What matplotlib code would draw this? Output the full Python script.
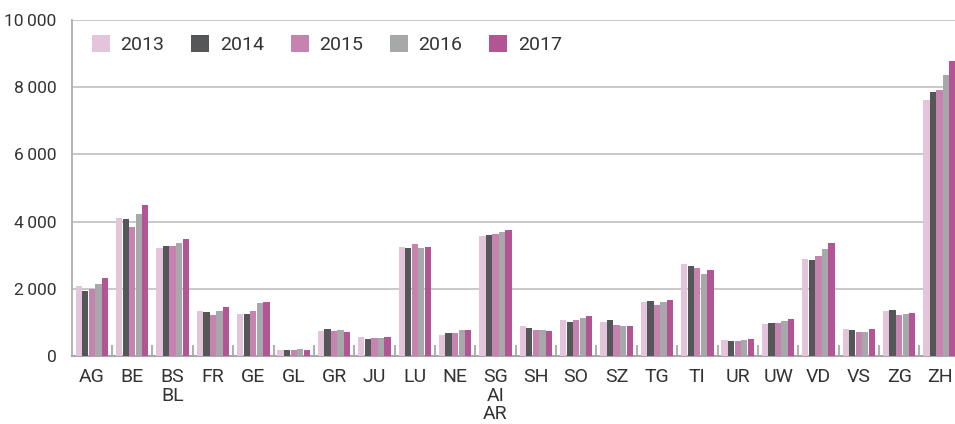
import matplotlib
matplotlib.use("Agg")
import matplotlib.pyplot as plt
import numpy as np
from matplotlib.patches import Patch

plt.rcParams['font.family'] = ['Roboto', 'DejaVu Sans']

categories = ["AG", "BE", "BS\nBL", "FR", "GE", "GL", "GR", "JU", "LU", "NE", "SG\nAI\nAR",
              "SH", "SO", "SZ", "TG", "TI", "UR", "UW", "VD", "VS", "ZG", "ZH"]
years = ["2013", "2014", "2015", "2016", "2017"]

v2013 = [2085, 4110, 3215, 1340, 1250, 180, 745, 565, 3245, 625, 3575, 895, 1070, 1010, 1610, 2740, 476, 953, 2888, 804, 1340, 7623]
v2014 = [1935, 4080, 3275, 1310, 1250, 180, 805, 505, 3215, 685, 3605, 835, 1010, 1070, 1640, 2680, 447, 983, 2859, 774, 1370, 7861]
v2015 = [1985, 3840, 3275, 1220, 1340, 180, 745, 535, 3335, 685, 3635, 775, 1070, 925, 1520, 2620, 447, 983, 2978, 715, 1221, 7921]
v2016 = [2145, 4230, 3365, 1340, 1580, 210, 775, 535, 3215, 775, 3690, 775, 1130, 895, 1610, 2442, 476, 1042, 3186, 715, 1251, 8368]
v2017 = [2320, 4500, 3485, 1460, 1610, 180, 715, 565, 3245, 775, 3750, 745, 1190, 895, 1670, 2561, 506, 1102, 3365, 804, 1280, 8785]

yticks = [0, 2000, 4000, 6000, 8000, 10000]
ytick_labels = ["0", "2\u2009000", "4\u2009000", "6\u2009000", "8\u2009000", "10\u2009000"]

colors = ["#e4c4da", "#555658", "#c783b0", "#a7a8aa", "#b35594"]
series = [v2013, v2014, v2015, v2016, v2017]

fig = plt.figure(figsize=(9.55, 4.24), dpi=100)
ax = fig.add_axes([71.7 / 955, 68 / 424, 888 / 955, 336 / 424])

x = np.arange(len(categories))
step = 0.162
w = 0.155
for i, (vals, c) in enumerate(zip(series, colors)):
    ax.bar(x + (i - 2) * step, vals, width=w, color=c, linewidth=0, zorder=3)

ax.set_xlim(-0.5, len(categories) - 0.5)
ax.set_ylim(0, 10000)
ax.set_yticks(yticks)
ax.set_yticklabels(ytick_labels, fontsize=12.5, color="#333333")
ax.tick_params(axis='y', length=0, pad=11)
ax.yaxis.grid(True, color="#c4c4c4", linewidth=1.3, zorder=0)
ax.set_axisbelow(True)

ax.set_xticks(x)
ax.set_xticklabels(categories, fontsize=14, color="#333333", linespacing=1.02, va='top')
ax.tick_params(axis='x', which='major', length=0, pad=9)
ax.set_xticks(np.arange(0.5, len(categories) - 0.5, 1.0), minor=True)
ax.tick_params(axis='x', which='minor', direction='in', length=8, width=1.5, color="#b0b0b0")
for t in ax.xaxis.get_minorticklines():
    t.set_zorder(4)

for s in ['top', 'right']:
    ax.spines[s].set_visible(False)
ax.spines['left'].set_color("#b0b0b0")
ax.spines['left'].set_linewidth(1.3)
ax.spines['bottom'].set_color("#a8a8a8")
ax.spines['bottom'].set_linewidth(1.5)

handles = [Patch(facecolor=c, edgecolor='none', label=y) for c, y in zip(colors, years)]
ax.legend(handles=handles, loc='upper left', bbox_to_anchor=(0.0229, 0.955), ncol=5,
          frameon=False, fontsize=14, handlelength=0.92, handleheight=0.92,
          handletextpad=0.55, columnspacing=1.38, borderpad=0, borderaxespad=0,
          labelcolor="#333333")

fig.savefig("out.png", dpi=100)
